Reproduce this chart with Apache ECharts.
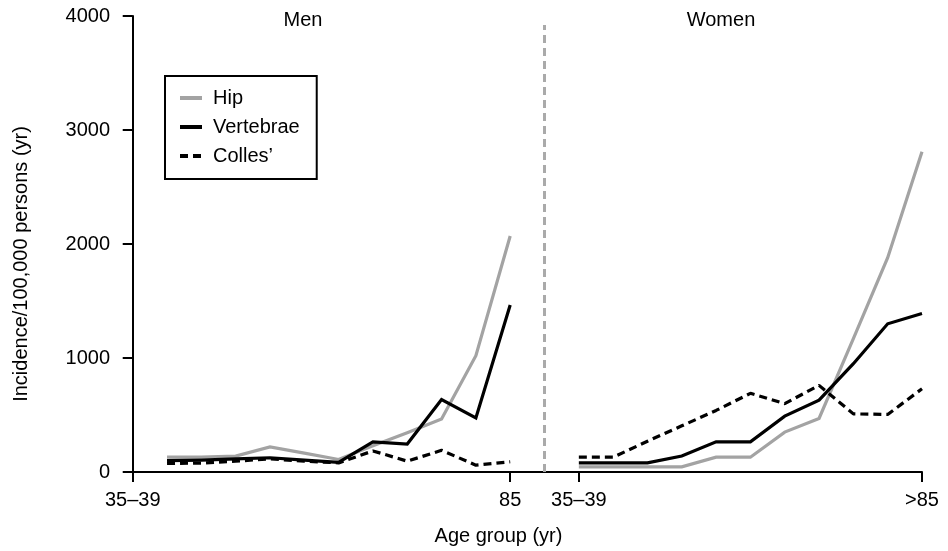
<!DOCTYPE html>
<html>
<head>
<meta charset="utf-8">
<script src="https://cdn.jsdelivr.net/npm/echarts@6/dist/echarts.min.js"></script>
<style>
html,body{margin:0;padding:0;background:#fff;}
#chart{width:948px;height:551px;}
</style>
</head>
<body>
<div id="chart"></div>
<script>
// Age-group positions along the shared x axis (12 = gap between panels)
var menPositions = [1, 2, 3, 4, 5, 6, 7, 8, 9, 10, 11];
var womenPositions = [13, 14, 15, 16, 17, 18, 19, 20, 21, 22, 23];
var dividerPosition = 12;

// Incidence per 100,000 persons per year
var menHip = [130, 130, 140, 220, 165, 110, 230, 345, 465, 1020, 2070];
var menVertebrae = [100, 105, 115, 125, 105, 85, 265, 245, 635, 475, 1465];
var menColles = [75, 78, 95, 115, 95, 80, 185, 95, 190, 60, 90];

var womenHip = [45, 45, 45, 45, 130, 130, 350, 470, 1170, 1880, 2810];
var womenVertebrae = [80, 80, 80, 140, 265, 265, 490, 630, 950, 1300, 1390];
var womenColles = [130, 130, 270, 405, 540, 690, 600, 760, 510, 505, 730];

var tickValues = [0, 11, 13, 23];
var tickLabels = ['35\u201339', '85', '35\u201339', '>85'];

var FONT = '"Liberation Sans", Arial, Helvetica, sans-serif';

function build(menVals, womenVals) {
  var d = [];
  menPositions.forEach(function (p, i) { d.push([p, menVals[i]]); });
  d.push([dividerPosition, '-']);
  womenPositions.forEach(function (p, i) { d.push([p, womenVals[i]]); });
  return d;
}

var chart = echarts.init(document.getElementById('chart'), null, {renderer: 'canvas'});

var option = {
  animation: false,
  backgroundColor: '#fff',
  textStyle: {fontFamily: FONT, color: '#000'},
  grid: {left: 131, right: 26, top: 16, bottom: 78},
  legend: {
    orient: 'vertical',
    left: 165,
    top: 76,
    borderColor: '#000',
    borderWidth: 2,
    padding: [12, 17, 13, 13],
    itemWidth: 22,
    itemHeight: 14,
    itemGap: 9,
    itemStyle: {opacity: 0, borderWidth: 0},
    lineStyle: {width: 4},
    textStyle: {fontFamily: FONT, fontSize: 20, color: '#000', padding: [0, 0, 0, 6]},
    data: ['Hip', 'Vertebrae', "Colles\u2019"]
  },
  xAxis: {
    type: 'value',
    min: -0.05,
    max: 23,
    name: 'Age group (yr)',
    nameLocation: 'middle',
    nameGap: 54,
    nameTextStyle: {fontFamily: FONT, fontSize: 20, color: '#000', padding: [0, 56, 0, 0]},
    splitLine: {show: false},
    axisLine: {show: true, lineStyle: {color: '#000', width: 2}},
    axisTick: {show: true, length: 10, lineStyle: {color: '#000', width: 2}, customValues: tickValues},
    axisLabel: {
      fontFamily: FONT, fontSize: 20, color: '#000', margin: 18,
      customValues: tickValues,
      formatter: function (v) {
        var i = tickValues.indexOf(v);
        return i >= 0 ? tickLabels[i] : '';
      }
    }
  },
  yAxis: {
    type: 'value',
    min: 0,
    max: 4000,
    interval: 1000,
    name: 'Incidence/100,000 persons (yr)',
    nameLocation: 'middle',
    nameGap: 100,
    nameTextStyle: {fontFamily: FONT, fontSize: 20, color: '#000', padding: [0, 40, 0, 0]},
    splitLine: {show: false},
    axisLine: {show: true, lineStyle: {color: '#000', width: 2}},
    axisTick: {show: true, length: 10, lineStyle: {color: '#000', width: 2}},
    axisLabel: {fontFamily: FONT, fontSize: 20, color: '#000', margin: 21,
      formatter: function (v) { return String(v); }}
  },
  graphic: [
    {type: 'text', x: 303, y: 20, style: {text: 'Men', font: '20px ' + FONT, fill: '#000', align: 'center', verticalAlign: 'middle'}},
    {type: 'text', x: 721, y: 20, style: {text: 'Women', font: '20px ' + FONT, fill: '#000', align: 'center', verticalAlign: 'middle'}}
  ],
  series: [
    {
      name: 'Hip', type: 'line', symbol: 'none', data: build(menHip, womenHip),
      color: '#a3a3a3',
      lineStyle: {color: '#a3a3a3', width: 3.2, join: 'miter'},
      z: 2,
      markLine: {
        silent: true, symbol: 'none', label: {show: false},
        lineStyle: {color: '#aaaaaa', width: 3, type: [8, 5]},
        data: [[{coord: [dividerPosition, 0]}, {coord: [dividerPosition, 3920]}]]
      }
    },
    {
      name: 'Vertebrae', type: 'line', symbol: 'none', data: build(menVertebrae, womenVertebrae),
      color: '#000',
      lineStyle: {color: '#000', width: 3.2, join: 'miter'},
      z: 3
    },
    {
      name: "Colles\u2019", type: 'line', symbol: 'none', data: build(menColles, womenColles),
      color: '#000',
      lineStyle: {color: '#000', width: 3.2, type: [8, 5]},
      z: 4
    }
  ]
};
chart.setOption(option);
</script>
</body>
</html>
